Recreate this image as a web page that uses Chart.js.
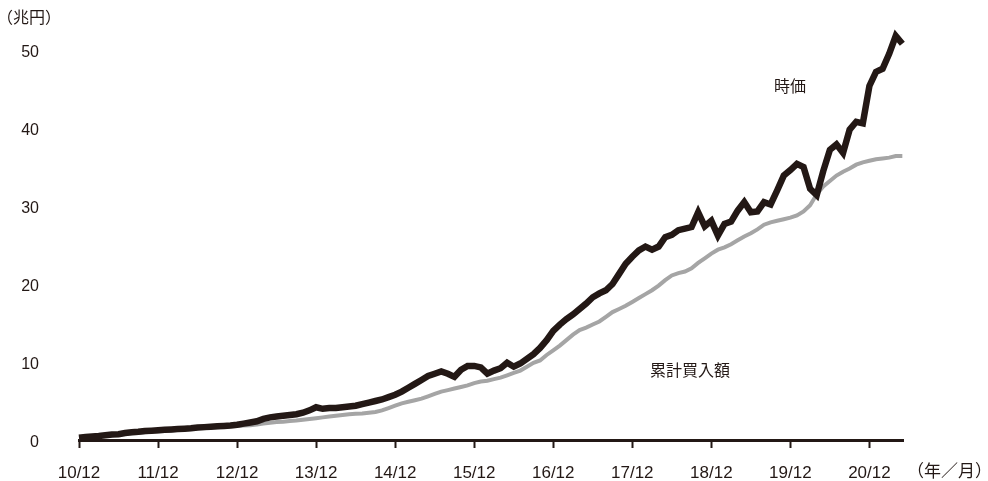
<!DOCTYPE html>
<html lang="ja">
<head>
<meta charset="utf-8">
<title>ETF 時価と累計買入額</title>
<script src="https://cdn.jsdelivr.net/npm/chart.js@4/dist/chart.umd.min.js"></script>
<style>
  html, body { margin: 0; padding: 0; background: #fff; }
  #wrap { width: 988px; height: 481px; }
</style>
</head>
<body>
<div id="wrap"><canvas id="etfChart" width="988" height="481"></canvas></div>
<script>
// monthly values, 2010/12 .. 2021/05 (兆円)
const marketValue = [
    0.3, 0.4, 0.45, 0.5, 0.6, 0.7, 0.75, 0.9, 1.0, 1.05, 1.15, 1.2,
    1.25, 1.3, 1.35, 1.4, 1.45, 1.5, 1.6, 1.65, 1.7, 1.75, 1.8, 1.85,
    1.95, 2.1, 2.25, 2.4, 2.7, 2.9, 3.0, 3.1, 3.2, 3.3, 3.5, 3.8,
    4.2, 4.0, 4.1, 4.1, 4.2, 4.3, 4.4, 4.6, 4.8, 5.0, 5.2, 5.5,
    5.8, 6.2, 6.7, 7.2, 7.7, 8.2, 8.5, 8.8, 8.5, 8.1, 9.0, 9.5,
    9.5, 9.3, 8.5, 8.9, 9.2, 9.9, 9.4, 9.8, 10.4, 11.0, 11.8, 12.8,
    14.0, 14.8, 15.5, 16.1, 16.8, 17.5, 18.3, 18.8, 19.2, 20.0, 21.3, 22.6,
    23.5, 24.3, 24.8, 24.4, 24.8, 26.0, 26.3, 26.9, 27.1, 27.3, 29.2, 27.4,
    28.1, 26.2, 27.7, 28.0, 29.4, 30.5, 29.2, 29.3, 30.5, 30.2, 32.0, 33.9,
    34.6, 35.4, 35.0, 32.2, 31.4, 34.5, 37.2, 37.9, 36.8, 39.8, 40.8, 40.6,
    45.4, 47.2, 47.6, 49.5, 51.8, 50.8
];
const totalPurchases = [
    0.3, 0.35, 0.4, 0.5, 0.55, 0.6, 0.7, 0.8, 0.85, 0.9, 1.0, 1.05,
    1.1, 1.15, 1.2, 1.3, 1.35, 1.4, 1.5, 1.5, 1.6, 1.65, 1.7, 1.75,
    1.8, 1.85, 1.9, 2.0, 2.1, 2.2, 2.3, 2.35, 2.45, 2.5, 2.6, 2.7,
    2.8, 2.9, 3.0, 3.1, 3.2, 3.3, 3.35, 3.4, 3.5, 3.6, 3.8, 4.1,
    4.4, 4.7, 4.9, 5.1, 5.3, 5.6, 5.9, 6.2, 6.4, 6.6, 6.8, 7.0,
    7.3, 7.5, 7.6, 7.8, 8.0, 8.3, 8.6, 8.9, 9.4, 9.9, 10.2, 10.9,
    11.5, 12.1, 12.8, 13.5, 14.1, 14.4, 14.8, 15.2, 15.8, 16.4, 16.8, 17.2,
    17.7, 18.2, 18.7, 19.2, 19.8, 20.5, 21.1, 21.4, 21.6, 22.0, 22.7, 23.3,
    23.9, 24.4, 24.7, 25.1, 25.6, 26.1, 26.5, 27.0, 27.6, 27.9, 28.1, 28.3,
    28.5, 28.8, 29.3, 30.1, 31.5, 32.5, 33.2, 33.9, 34.4, 34.8, 35.3, 35.6,
    35.8, 36.0, 36.1, 36.2, 36.4, 36.4
];
const xTickLabels = ['10/12', '11/12', '12/12', '13/12', '14/12', '15/12',
                     '16/12', '17/12', '18/12', '19/12', '20/12'];
const yTickValues = [0, 10, 20, 30, 40, 50];

const INK = '#231815';
const GREY = '#a5a5a5';

function toPoints(arr) {
    return arr.map((v, i) => ({ x: i, y: v }));
}

// labels on the plot and the unit captions
const captionPlugin = {
    id: 'captions',
    afterDraw(chart) {
        const ctx = chart.ctx;
        ctx.save();
        ctx.fillStyle = INK;
        ctx.textBaseline = 'middle';
        ctx.font = '16px "Noto Sans CJK JP"';
        ctx.textAlign = 'center';
        ctx.fillText('時価', 790, 86);
        ctx.fillText('累計買入額', 690, 370);
        ctx.textAlign = 'left';
        ctx.fillText('（兆円）', -3, 17);
        ctx.font = '17px "Noto Sans CJK JP"';
        ctx.fillText('（年／月）', 907, 471);
        ctx.restore();
    }
};

new Chart(document.getElementById('etfChart'), {
    type: 'line',
    data: {
        datasets: [
            {
                label: '時価',
                data: toPoints(marketValue),
                borderColor: INK,
                borderWidth: 6.5,
                pointRadius: 0,
                tension: 0,
                borderJoinStyle: 'miter',
                clip: false,
            },
            {
                label: '累計買入額',
                data: toPoints(totalPurchases),
                borderColor: GREY,
                borderWidth: 4,
                pointRadius: 0,
                tension: 0,
                clip: false,
            }
        ]
    },
    options: {
        responsive: false,
        animation: false,
        layout: { padding: { top: 11, right: 85, left: 0, bottom: 0 } },
        plugins: {
            legend: { display: false },
            tooltip: { enabled: false }
        },
        scales: {
            x: {
                type: 'linear',
                min: 0,
                max: 125.1,
                afterBuildTicks: s => { s.ticks = xTickLabels.map((_, i) => ({ value: i * 12 })); },
                afterFit: s => { s.height = 41; s.paddingLeft = 0; s.paddingRight = 0; },
                border: { display: true, color: INK, width: 3 },
                grid: {
                    drawOnChartArea: false,
                    drawTicks: true,
                    tickLength: 8,
                    tickColor: INK,
                    tickWidth: 2,
                },
                ticks: {
                    color: INK,
                    padding: 15,
                    maxRotation: 0,
                    autoSkip: false,
                    font: { family: '"Liberation Sans", Arial', size: 17 },
                    callback: (v, i) => xTickLabels[i]
                }
            },
            y: {
                min: 0,
                max: 55,
                afterBuildTicks: s => { s.ticks = yTickValues.map(v => ({ value: v })); },
                afterFit: s => { s.width = 79; s.paddingTop = 0; s.paddingBottom = 0; },
                border: { display: false },
                grid: { display: false, drawTicks: false },
                ticks: {
                    color: INK,
                    padding: 40,
                    labelOffset: 3,
                    font: { family: '"Liberation Sans", Arial', size: 16 }
                }
            }
        }
    },
    plugins: [captionPlugin]
});
</script>
</body>
</html>
